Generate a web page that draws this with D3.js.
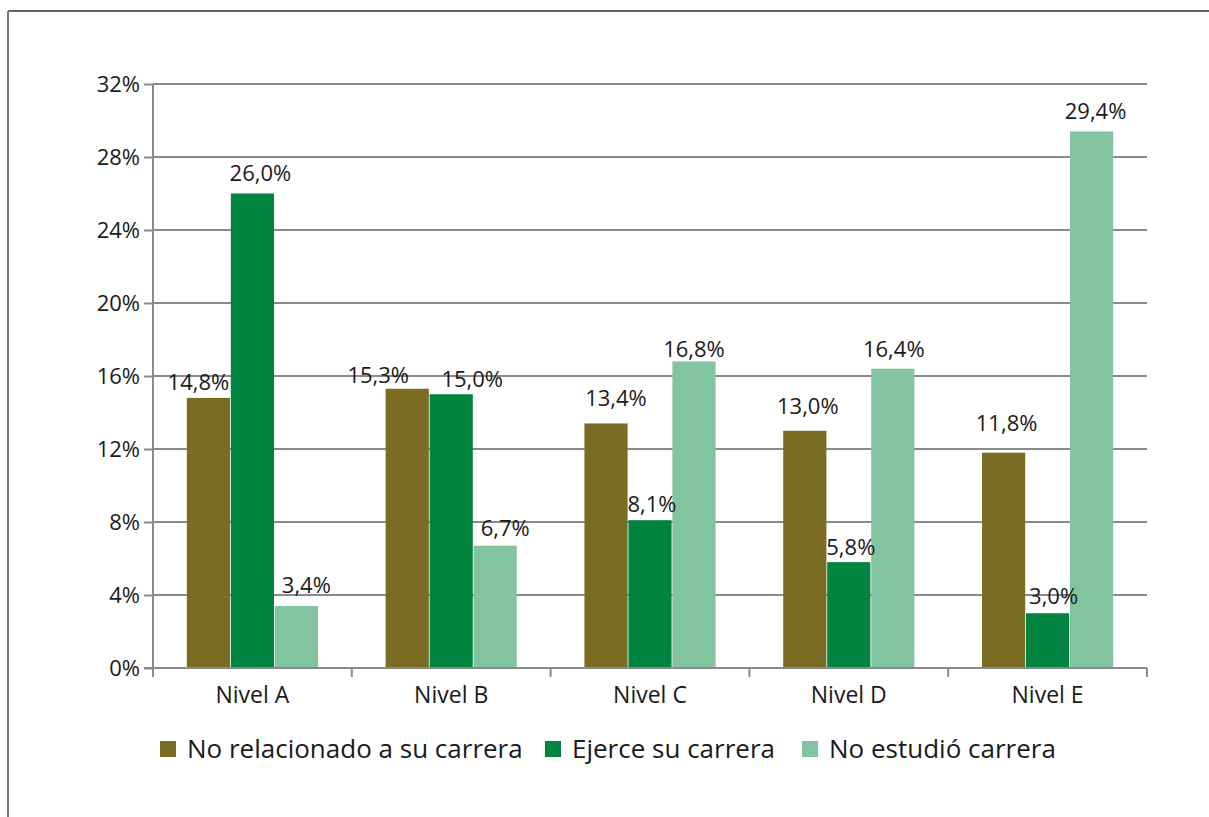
<!DOCTYPE html>
<html>
<head>
<meta charset="utf-8">
<script src="https://cdn.jsdelivr.net/npm/d3@7"></script>
<style>
  html, body { margin: 0; padding: 0; background: #fff; }
  svg { display: block; }
  text { font-family: "Open Sans", Lato, sans-serif; font-weight: 400; fill: #1a1a1a; }
</style>
</head>
<body>
<svg id="chart" width="1209" height="817"></svg>
<script>
// Categories, series and values
const categories = ["Nivel A", "Nivel B", "Nivel C", "Nivel D", "Nivel E"];
const seriesNames = ["No relacionado a su carrera", "Ejerce su carrera", "No estudió carrera"];
const noRelacionado = [14.8, 15.3, 13.4, 13.0, 11.8];
const ejerce = [26.0, 15.0, 8.1, 5.8, 3.0];
const noEstudio = [3.4, 6.7, 16.8, 16.4, 29.4];
const yTicks = [0, 4, 8, 12, 16, 20, 24, 28, 32];
const colors = ["#7a6c23", "#00843f", "#82c3a0"];

// Hand-placed value label nudges [dx, dy] from the top-centre of each bar, per series
const labelNudge = [
  [[-10, -8], [-29, -6], [10, -17], [3, -17], [3, -22]],
  [[8, -13], [21, -7], [2, -8], [2, -7], [6, -9]],
  [[10, -13], [10, -10], [0, -4], [1, -12], [4, -12]]
];

const seriesValues = [noRelacionado, ejerce, noEstudio];
const fmt = v => v.toFixed(1).replace(".", ",") + "%";

const svg = d3.select("#chart");
const margin = { left: 153, right: 1147, top: 84, bottom: 668 };

// Outer frame (top and left edges)
svg.append("line").attr("x1", 8).attr("x2", 1209).attr("y1", 11).attr("y2", 11)
  .attr("stroke", "#333").attr("stroke-width", 1.5);
svg.append("line").attr("x1", 8).attr("x2", 8).attr("y1", 11).attr("y2", 817)
  .attr("stroke", "#777").attr("stroke-width", 2);

const x0 = d3.scaleBand().domain(categories).range([margin.left, margin.right]).paddingInner(0).paddingOuter(0);
const x1 = d3.scaleBand().domain(seriesNames).range([0, x0.bandwidth()]).paddingOuter(0.76).paddingInner(0);
const y = d3.scaleLinear().domain([0, 32]).range([margin.bottom, margin.top]);

const gridColor = "#8a8a8a";

// Horizontal gridlines
svg.append("g").selectAll("line").data(yTicks.filter(t => t > 0)).join("line")
  .attr("x1", margin.left).attr("x2", margin.right)
  .attr("y1", d => y(d)).attr("y2", d => y(d))
  .attr("stroke", gridColor).attr("stroke-width", 2);

// Y axis
const yAxis = svg.append("g").attr("transform", `translate(${margin.left},0)`)
  .call(d3.axisLeft(y).tickValues(yTicks).tickFormat(d => d + "%").tickSize(9).tickPadding(4));
yAxis.select(".domain").attr("stroke", gridColor).attr("stroke-width", 2).attr("d", `M0,${margin.top}V${margin.bottom}`);
yAxis.selectAll(".tick line").attr("stroke", gridColor).attr("stroke-width", 2);
yAxis.selectAll("text").attr("font-size", 22).attr("fill", "#1a1a1a")
  .attr("font-family", "'Open Sans', sans-serif");

// Bars
const groups = svg.append("g").selectAll("g").data(categories).join("g")
  .attr("transform", d => `translate(${x0(d)},0)`);

const rows = (c, i) => seriesNames.map((s, k) => ({ s, k, i, v: seriesValues[k][i] }));

groups.selectAll("rect").data(rows)
  .join("rect")
  .attr("x", d => x1(d.s) + 0.4)
  .attr("width", x1.bandwidth() - 0.8)
  .attr("y", d => y(d.v))
  .attr("height", d => y(0) - y(d.v))
  .attr("fill", d => colors[d.k]);

groups.selectAll("text.val").data(rows)
  .join("text").attr("class", "val")
  .attr("x", d => x1(d.s) + x1.bandwidth() / 2 + labelNudge[d.k][d.i][0])
  .attr("y", d => y(d.v) + labelNudge[d.k][d.i][1])
  .attr("text-anchor", "middle")
  .attr("font-size", 22)
  .text(d => fmt(d.v));

// X axis with ticks at category boundaries
const xAxisG = svg.append("g");
xAxisG.append("line").attr("x1", margin.left - 9).attr("x2", margin.right)
  .attr("y1", y(0)).attr("y2", y(0)).attr("stroke", gridColor).attr("stroke-width", 2);
const bounds = categories.map(c => x0(c)).concat([margin.right]);
xAxisG.selectAll("line.tk").data(bounds).join("line").attr("class", "tk")
  .attr("x1", d => d).attr("x2", d => d)
  .attr("y1", y(0)).attr("y2", y(0) + 9)
  .attr("stroke", gridColor).attr("stroke-width", 2);
xAxisG.selectAll("text").data(categories).join("text")
  .attr("x", d => x0(d) + x0.bandwidth() / 2)
  .attr("y", 703)
  .attr("text-anchor", "middle")
  .attr("font-size", 23)
  .text(d => d);

// Legend
const legendX = [160, 545, 802];
const legend = svg.append("g").selectAll("g").data(seriesNames).join("g")
  .attr("transform", (d, i) => `translate(${legendX[i]},741)`);
legend.append("rect").attr("width", 16).attr("height", 16).attr("fill", (d, i) => colors[i]);
legend.append("text").attr("x", 27).attr("y", 16.5).attr("font-size", 26).text(d => d);
</script>
</body>
</html>
